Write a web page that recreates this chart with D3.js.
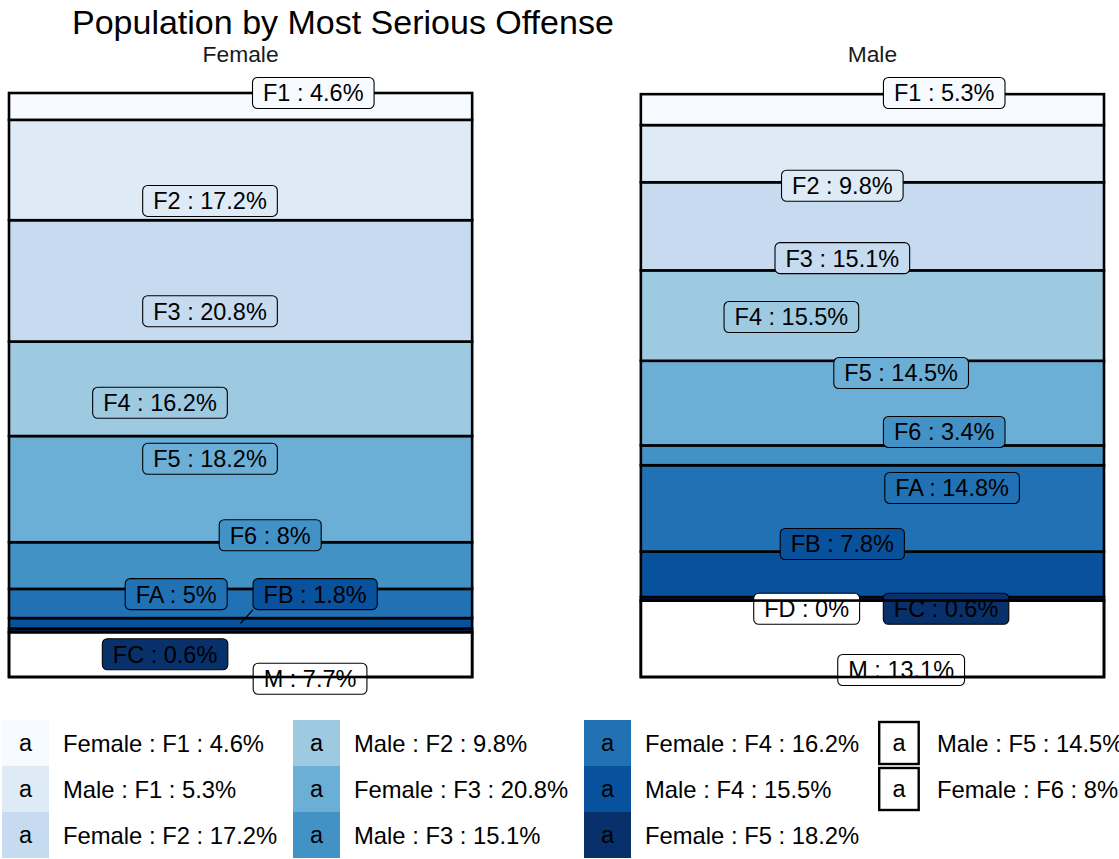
<!DOCTYPE html>
<html>
<head>
<meta charset="utf-8">
<script src="https://cdn.jsdelivr.net/npm/d3@7"></script>
<style>
  body { margin: 0; background: #fff; }
  svg { display: block; font-family: "Liberation Sans", Arial, sans-serif; }
</style>
</head>
<body>
<svg id="chart" width="1119" height="859"></svg>
<script>
// ---- data ----
const genders = ["Female", "Male"];
const categories = ["F1", "F2", "F3", "F4", "F5", "F6", "FA", "FB", "FC", "FD", "M"];
const femaleValues = [4.6, 17.2, 20.8, 16.2, 18.2, 8, 5, 1.8, 0.6, 0, 7.7];
const maleValues   = [5.3, 9.8, 15.1, 15.5, 14.5, 3.4, 14.8, 7.8, 0.6, 0, 13.1];
const femaleValueLabels = ["4.6%", "17.2%", "20.8%", "16.2%", "18.2%", "8%", "5%", "1.8%", "0.6%", null, "7.7%"];
const maleValueLabels   = ["5.3%", "9.8%", "15.1%", "15.5%", "14.5%", "3.4%", "14.8%", "7.8%", "0.6%", "0%", "13.1%"];
const categoryColors = ["#F7FBFF", "#DEEBF7", "#C6DBEF", "#9ECAE1", "#6BAED6", "#4292C6", "#2171B5", "#08519C", "#08306B", "#FFFFFF", "#FFFFFF"];
// repelled label positions (x as fraction of bar width, y in percent units)
const femaleLabelX = [0.657, 0.434, 0.434, 0.326, 0.434, 0.564, 0.361, 0.661, 0.337, null, 0.650];
const femaleLabelY = [100.1, 81.6, 62.7, 47.0, 37.4, 24.3, 14.2, 14.2, 3.9, null, -0.3];
const maleLabelX = [0.655, 0.435, 0.435, 0.325, 0.562, 0.655, 0.672, 0.435, 0.659, 0.358, 0.562];
const maleLabelY = [100.1, 84.2, 71.8, 61.7, 52.1, 42.0, 32.4, 22.8, 11.7, 11.7, 1.2];
const femaleLeader = ["FB"];
const maleLeader = [];
const legendLabels = ["Female : F1 : 4.6%", "Male : F1 : 5.3%", "Female : F2 : 17.2%",
  "Male : F2 : 9.8%", "Female : F3 : 20.8%", "Male : F3 : 15.1%",
  "Female : F4 : 16.2%", "Male : F4 : 15.5%", "Female : F5 : 18.2%",
  "Male : F5 : 14.5%", "Female : F6 : 8%"];
const legendColors = ["#F7FBFF", "#DEEBF7", "#C6DBEF", "#9ECAE1", "#6BAED6", "#4292C6",
  "#2171B5", "#08519C", "#08306B", null, null];
const titleText = "Population by Most Serious Offense";

// ---- layout ----
const svg = d3.select("#chart");
const FS = 23.5;

const x = d3.scaleBand().domain(genders).range([9, 1104]).paddingInner(0.267).paddingOuter(0);
const y = d3.scaleLinear().domain([0, 100.1]).range([677, 93]);
const color = d3.scaleOrdinal().domain(categories).range(categoryColors);

svg.append("text").attr("x", 72).attr("y", 34).attr("font-size", 34).attr("fill", "#000").text(titleText);

const panels = {
  Female: { values: femaleValues, vlabels: femaleValueLabels, lx: femaleLabelX, ly: femaleLabelY, leader: femaleLeader },
  Male:   { values: maleValues,   vlabels: maleValueLabels,   lx: maleLabelX,   ly: maleLabelY,   leader: maleLeader }
};

genders.forEach(g => {
  const p = panels[g];
  const rows = [{}];
  categories.forEach((c, i) => rows[0][c] = p.values[i]);
  const stack = d3.stack().keys(categories.slice().reverse());
  const series = stack(rows);
  const x0 = x(g), bw = x.bandwidth();
  const lxScale = d3.scaleLinear().domain([0, 1]).range([x0, x0 + bw]);

  // strip title
  svg.append("text").attr("x", x0 + bw / 2).attr("y", 62).attr("text-anchor", "middle")
    .attr("font-size", 22.8).attr("fill", "#1a1a1a").text(g);

  const gBars = svg.append("g");
  gBars.selectAll("rect").data(series).join("rect")
    .attr("x", x0).attr("width", bw)
    .attr("y", d => y(d[0][1]))
    .attr("height", d => y(d[0][0]) - y(d[0][1]))
    .attr("fill", d => color(d.key))
    .attr("stroke", "#000").attr("stroke-width", 2.6);

  const segMid = {};
  series.forEach(s => segMid[s.key] = (s[0][0] + s[0][1]) / 2);

  const gLab = svg.append("g");
  const labels = categories.map((c, i) => ({ c, i, v: p.vlabels[i], lx: p.lx[i], ly: p.ly[i] }))
    .filter(d => d.v !== null);

  labels.forEach(d => {
    const gl = gLab.append("g");
    const t = gl.append("text").attr("font-size", FS).attr("fill", "#000")
      .attr("text-anchor", "middle").attr("dy", "0.36em")
      .attr("x", lxScale(d.lx)).attr("y", y(d.ly)).text(d.c + " : " + d.v);
    const w = t.node().getComputedTextLength() + 21;
    const h = 31;
    const bx = lxScale(d.lx) - w / 2, by = y(d.ly) - h / 2;
    if (p.leader.includes(d.c)) {
      const px = lxScale(0.5), py = y(segMid[d.c]);
      const tx = Math.max(bx, Math.min(px, bx + w)), ty = Math.max(by, Math.min(py, by + h));
      gl.insert("line", "text").attr("x1", px).attr("y1", py).attr("x2", tx).attr("y2", ty)
        .attr("stroke", "#000").attr("stroke-width", 1.3);
    }
    gl.insert("rect", "text").attr("x", bx).attr("y", by).attr("width", w).attr("height", h)
      .attr("rx", 5).attr("ry", 5).attr("fill", color(d.c)).attr("stroke", "#000").attr("stroke-width", 1.1);
  });

  // bottom segment outline on top of labels
  const mSeries = series.find(s => s.key === "M");
  svg.append("rect").attr("x", x0).attr("width", bw)
    .attr("y", y(mSeries[0][1])).attr("height", y(mSeries[0][0]) - y(mSeries[0][1]))
    .attr("fill", "none").attr("stroke", "#000").attr("stroke-width", 2.6);
});

// ---- legend ----
const legendCols = [2, 293, 584, 878];
const keyW = 47, keyH = 46, legTop = 720;
const gLeg = svg.append("g");
legendLabels.forEach((lab, i) => {
  const col = Math.floor(i / 3), row = i % 3;
  const kx = legendCols[col], ky = legTop + row * keyH;
  const fill = legendColors[i];
  if (fill) {
    gLeg.append("rect").attr("x", kx).attr("y", ky).attr("width", keyW).attr("height", keyH).attr("fill", fill);
  } else {
    gLeg.append("rect").attr("x", kx + 1.2).attr("y", ky + 2).attr("width", 39.5).attr("height", keyH - 4)
      .attr("fill", "#fff").attr("stroke", "#000").attr("stroke-width", 2.4);
  }
  const kcx = fill ? kx + keyW / 2 : kx + 21;
  gLeg.append("text").attr("x", kcx).attr("y", ky + keyH / 2).attr("dy", "0.36em")
    .attr("text-anchor", "middle").attr("font-size", 23.5).attr("fill", "#000").text("a");
  gLeg.append("text").attr("x", kx + (fill ? 61 : 59)).attr("y", ky + keyH / 2).attr("dy", "0.36em")
    .attr("font-size", 23.8).attr("fill", "#000").text(lab);
});
</script>
</body>
</html>
